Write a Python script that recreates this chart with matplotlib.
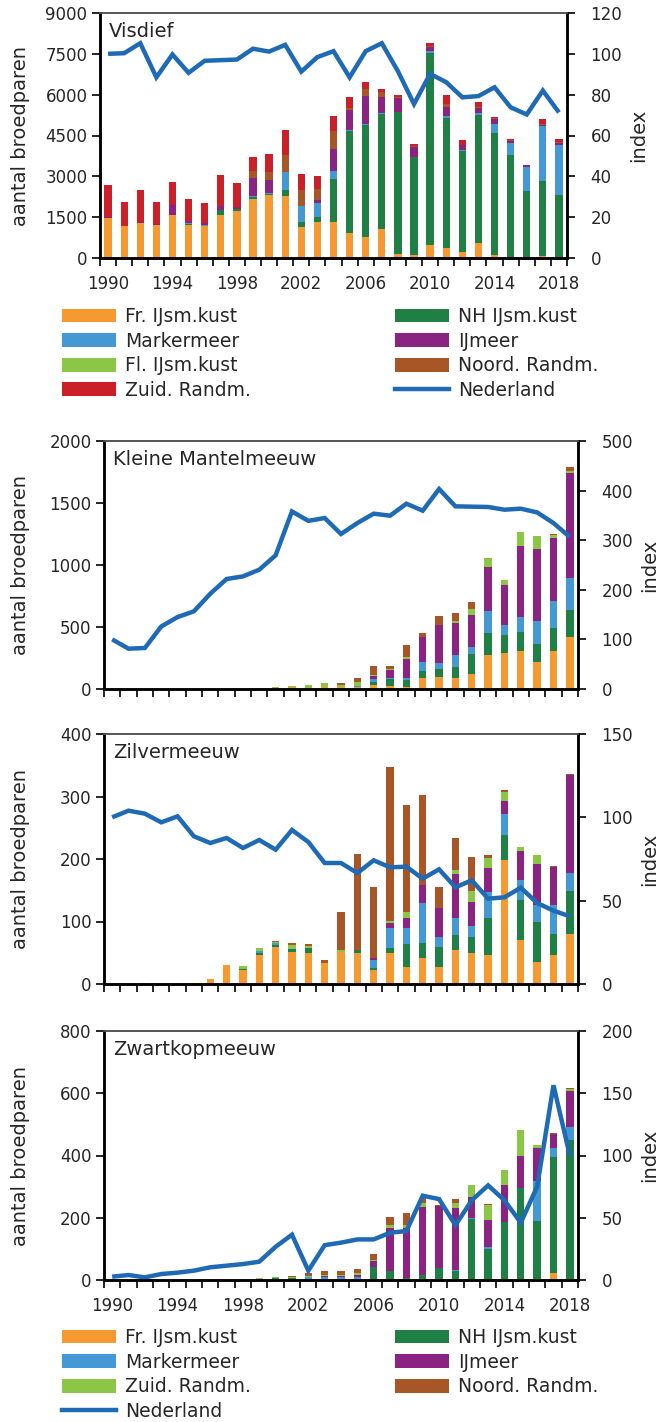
import matplotlib
matplotlib.use('Agg')
import matplotlib.pyplot as plt
import numpy as np
from matplotlib.lines import Line2D
from matplotlib.patches import Patch

plt.rcParams['font.family'] = ['DejaVu Sans']
plt.rcParams['text.color'] = '#262626'
plt.rcParams['axes.labelcolor'] = '#262626'
plt.rcParams['xtick.color'] = 'black'
plt.rcParams['ytick.color'] = 'black'
plt.rcParams['xtick.labelcolor'] = '#262626'
plt.rcParams['ytick.labelcolor'] = '#262626'

years = list(range(1990, 2019))
year_ticks = [1990, 1994, 1998, 2002, 2006, 2010, 2014, 2018]

# Visdief - breeding pairs per area
vd_fr = [1470, 1160, 1270, 1220, 1565, 1220, 1160, 1590, 1740, 2180, 2300, 2290, 1150, 1310, 1330,
         930, 780, 1080, 160, 120, 490, 355, 210, 550, 110, 50, 40, 90, 40]
vd_nh = [0, 0, 0, 0, 0, 30, 0, 160, 70, 50, 60, 195, 160, 185, 1590,
         3750, 4100, 4210, 5190, 3580, 7030, 4770, 3720, 4720, 4500, 3730, 2430, 2730, 2260]
vd_mk = [0, 0, 0, 0, 0, 40, 70, 0, 0, 60, 40, 685, 610, 540, 280,
         20, 35, 35, 25, 25, 100, 100, 50, 60, 320, 440, 890, 2020, 1860]
vd_ij = [30, 25, 60, 30, 380, 60, 40, 160, 60, 640, 465, 0, 0, 100, 820,
         730, 1040, 575, 490, 340, 120, 340, 160, 170, 160, 85, 50, 50, 50]
vd_fl = [0] * 29
vd_nr = [0, 0, 0, 0, 0, 0, 0, 0, 0, 280, 290, 610, 575, 415, 650,
         85, 245, 185, 50, 50, 50, 85, 25, 35, 50, 35, 0, 35, 35]
vd_zr = [1165, 870, 1165, 805, 855, 825, 750, 1125, 870, 485, 670, 915, 575, 470, 550,
         400, 270, 110, 75, 85, 100, 340, 180, 180, 40, 40, 0, 195, 120]
vd_index = [100, 100.3, 105.2, 88.5, 99.7, 90.7, 96.6, 96.9, 97.2, 102.5, 101.1, 104.4, 91.3, 98.4, 101.3,
            88.5, 101.3, 105.2, 91.5, 75.4, 90.2, 86.1, 78.7, 79.3, 83.6, 73.8, 70.3, 82, 71.3]

# Kleine Mantelmeeuw
km_fr = [0, 0, 0, 0, 0, 0, 0, 0, 0, 0, 0, 16, 10, 13, 13,
         19, 30, 27, 19, 86, 97, 86, 124, 272, 291, 304, 221, 304, 420]
km_nh = [0, 0, 0, 0, 0, 0, 0, 0, 0, 0, 0, 0, 0, 0, 0,
         0, 24, 51, 51, 59, 67, 94, 161, 183, 143, 153, 140, 191, 221]
km_mk = [0, 0, 0, 0, 0, 0, 0, 0, 0, 0, 0, 0, 0, 0, 0,
         8, 24, 13, 22, 73, 43, 97, 54, 175, 83, 124, 188, 215, 256]
km_ij = [0, 0, 0, 0, 0, 0, 0, 0, 0, 0, 0, 0, 0, 0, 0,
         0, 27, 59, 151, 199, 307, 256, 261, 350, 320, 570, 581, 511, 845]
km_fl = [0, 0, 0, 0, 0, 0, 0, 0, 0, 8, 13, 5, 22, 33, 22,
         32, 11, 8, 19, 0, 0, 13, 48, 75, 40, 118, 100, 22, 19]
km_nr = [0, 0, 0, 0, 0, 0, 0, 0, 0, 0, 0, 0, 0, 0, 13,
         32, 67, 24, 91, 38, 73, 67, 51, 5, 0, 0, 5, 8, 30]
km_index = [100, 81.3, 82.7, 126, 145, 156.6, 192, 221.8, 227, 240.6, 269.5, 358, 339, 344.7, 312.5,
            334.6, 353.5, 349.4, 373.6, 359.5, 403.2, 368.3, 367.6, 367, 361.5, 363.6, 356, 334.6, 306.4]

# Zilvermeeuw
zm_fr = [0, 0, 1.5, 0, 2, 2, 8, 30, 23, 47, 59, 51, 50, 33, 51,
         50, 22, 49, 28, 42, 28, 54, 49, 47, 198, 71, 35, 46, 80]
zm_nh = [0, 0, 0, 0, 0, 0, 0, 0, 1, 3, 3, 5, 7.5, 0, 0,
         5, 4, 9, 36, 23, 31, 24, 27, 58, 41, 64, 64, 34, 69]
zm_mk = [0, 0, 0, 0, 0, 0, 0, 0, 0, 3, 3, 0, 0, 0, 0,
         0, 12, 31, 26, 64, 17, 28, 17, 43, 33, 32, 28, 47, 29]
zm_ij = [0, 0, 0, 0, 0, 0, 0, 0, 0, 0, 0, 0, 0, 0, 0,
         0, 3, 9, 15, 30, 45, 70, 39, 37, 21, 46, 65, 60, 156]
zm_fl = [0, 0, 0, 0, 0, 0, 0, 1, 5, 5, 2, 6, 4, 0, 4,
         0, 0, 3, 11, 0, 0, 6, 17, 16, 14, 7, 14, 0, 0]
zm_nr = [0, 0, 0, 0, 0, 0, 0, 0, 0, 0, 2, 3, 3, 6, 61,
         153, 115, 247, 170, 143, 35, 51, 55, 5, 3, 0, 1, 2, 2]
zm_index = [100, 104, 102.2, 97, 100.6, 88.6, 84.6, 87.6, 81.6, 86.4, 80.6, 92.4, 85.2, 72.6, 72.6,
            66.6, 74.2, 70, 70.4, 63.2, 68.8, 58, 62.2, 51.2, 52, 57.8, 48.6, 44, 40.6]

# Zwartkopmeeuw
zk_fr = [0] * 27 + [21, 0]
zk_nh = [0, 0, 0, 0, 0, 0, 0, 0, 0, 3, 6, 5, 4, 3, 0,
         0, 43, 28, 5, 15, 37, 28, 197, 101, 186, 296, 189, 374, 449]
zk_mk = [0, 0, 0, 0, 0, 0, 0, 0, 0, 0, 0, 0, 5, 6, 8.5,
         10.7, 0, 0, 0, 0, 0, 5, 3, 5, 0, 0, 128, 30, 41]
zk_ij = [0, 0, 0, 0, 0, 0, 0, 0, 0, 0, 0, 0, 0, 3, 4,
         4, 17, 139, 162, 220, 200, 198, 67, 87, 119, 102, 107, 43, 118]
zk_zr = [0, 0, 0, 0, 0, 0, 0, 0, 1, 4, 5, 4, 5, 5, 3,
         8.5, 5, 8.5, 8.5, 12, 0, 15, 37.5, 48, 50, 83, 11, 0, 5]
zk_nr = [0, 0, 0, 0, 0, 0, 0, 0, 0, 0, 0, 4, 7, 11, 13,
         12, 20, 26, 40, 15, 5, 14, 0, 4, 0, 0, 0, 5, 5]
zk_index = [2.7, 4, 2.1, 4.8, 5.9, 7.5, 10.2, 11.5, 12.8, 14.7, 26.7, 36.4, 7.5, 28, 30,
            32.6, 32.6, 38, 39.3, 67.7, 65, 44, 64, 76, 64, 46, 75, 156.4, 100]

ORANGE = '#F49A30'
GREEN = '#1F7F45'
BLUE = '#4499D5'
PURPLE = '#8B2383'
LIGHTGREEN = '#8CC646'
BROWN = '#A85626'
RED = '#CB2027'
LINE = '#1F6AB4'

W, H = 663, 1422
fig = plt.figure(figsize=(W / 100, H / 100), dpi=100)


def rect(left, right, top, bottom):
    return [left / W, 1 - bottom / H, (right - left) / W, (bottom - top) / H]


def draw_panel(left, right, top, bottom, title, series, index, ymax, ystep, imax, istep,
               show_years):
    ax = fig.add_axes(rect(left, right, top, bottom))
    width = right - left
    x = np.arange(len(years))
    base = np.zeros(len(years))
    for vals, col in series:
        vals = np.asarray(vals, dtype=float)
        ax.bar(x, vals, 0.45, bottom=base, color=col, linewidth=0)
        base += vals
    ax.set_xlim(-0.5, len(years) - 0.5)
    ax.set_ylim(0, ymax)
    ax.set_yticks(np.arange(0, ymax + 1, ystep))
    ax.set_xticks([years.index(y) for y in year_ticks])
    ax.set_xticks(np.arange(-0.5, len(years), 1), minor=True)
    if show_years:
        ax.set_xticklabels([str(y) for y in year_ticks])
    else:
        ax.set_xticklabels([])
    ax.tick_params(axis='x', which='major', length=0, pad=12, labelsize=12)
    ax.tick_params(axis='x', which='minor', length=6, width=1.2, direction='out')
    ax.tick_params(axis='y', length=6, width=1.2, direction='out', labelsize=12, pad=3)
    ax.set_ylabel('aantal broedparen', fontsize=14)
    ax.yaxis.set_label_coords((30 - left) / width, 0.5)
    ax.text(0.02, 0.965, title, transform=ax.transAxes, fontsize=14, va='top', ha='left')

    ax2 = ax.twinx()
    ax2.plot(x, index, color=LINE, lw=3.2, solid_joinstyle='miter', solid_capstyle='butt')
    ax2.set_ylim(0, imax)
    ax2.set_yticks(np.arange(0, imax + 1, istep))
    ax2.tick_params(axis='y', length=6, width=1.2, direction='out', labelsize=12, pad=11)
    ax2.set_ylabel('index', fontsize=14)
    ax2.yaxis.set_label_coords((right + 62 - left) / width, 0.5)

    for a in (ax, ax2):
        a.spines['top'].set_color('#555555')
        a.spines['top'].set_linewidth(1.2)
        for side in ('left', 'right', 'bottom'):
            a.spines[side].set_linewidth(1.8)
            a.spines[side].set_color('black')
    return ax


draw_panel(100, 567, 13, 258, 'Visdief',
           [(vd_fr, ORANGE), (vd_nh, GREEN), (vd_mk, BLUE), (vd_ij, PURPLE),
            (vd_fl, LIGHTGREEN), (vd_nr, BROWN), (vd_zr, RED)],
           vd_index, 9000, 1500, 120, 20, True)

draw_panel(104, 578, 441, 689, 'Kleine Mantelmeeuw',
           [(km_fr, ORANGE), (km_nh, GREEN), (km_mk, BLUE), (km_ij, PURPLE),
            (km_fl, LIGHTGREEN), (km_nr, BROWN)],
           km_index, 2000, 500, 500, 100, False)

draw_panel(104, 578, 734, 984, 'Zilvermeeuw',
           [(zm_fr, ORANGE), (zm_nh, GREEN), (zm_mk, BLUE), (zm_ij, PURPLE),
            (zm_fl, LIGHTGREEN), (zm_nr, BROWN)],
           zm_index, 400, 100, 150, 50, False)

draw_panel(104, 578, 1031, 1280, 'Zwartkopmeeuw',
           [(zk_fr, ORANGE), (zk_nh, GREEN), (zk_mk, BLUE), (zk_ij, PURPLE),
            (zk_zr, LIGHTGREEN), (zk_nr, BROWN)],
           zk_index, 800, 200, 200, 50, True)


def patch(col):
    return Patch(facecolor=col, edgecolor='none')


ned = Line2D([], [], color=LINE, lw=3.2)
legend_kw = dict(loc='upper left', frameon=False, fontsize=13.5, handlelength=2.9,
                 handleheight=0.75, handletextpad=0.45, labelspacing=0.3, borderpad=0,
                 borderaxespad=0)

# legend under the Visdief panel
fig.legend([patch(ORANGE), patch(BLUE), patch(LIGHTGREEN), patch(RED)],
           ['Fr. IJsm.kust', 'Markermeer', 'Fl. IJsm.kust', 'Zuid. Randm.'],
           bbox_to_anchor=(62 / W, 1 - 307 / H), **legend_kw)
fig.legend([patch(GREEN), patch(PURPLE), patch(BROWN), ned],
           ['NH IJsm.kust', 'IJmeer', 'Noord. Randm.', 'Nederland'],
           bbox_to_anchor=(395 / W, 1 - 307 / H), **legend_kw)

# legend under the gull panels
fig.legend([patch(ORANGE), patch(BLUE), patch(LIGHTGREEN), ned],
           ['Fr. IJsm.kust', 'Markermeer', 'Zuid. Randm.', 'Nederland'],
           bbox_to_anchor=(62 / W, 1 - 1328 / H), **legend_kw)
fig.legend([patch(GREEN), patch(PURPLE), patch(BROWN)],
           ['NH IJsm.kust', 'IJmeer', 'Noord. Randm.'],
           bbox_to_anchor=(395 / W, 1 - 1328 / H), **legend_kw)

fig.savefig('out.png', dpi=100)
